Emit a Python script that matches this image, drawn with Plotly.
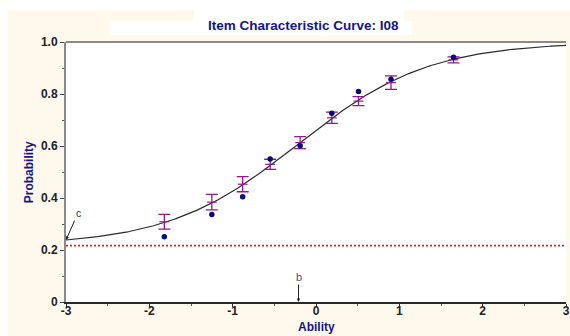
import numpy as np
import plotly.graph_objects as go

# ---- data ----
item_a = 1.28      # slope (incl. scaling)
item_b = -0.21     # difficulty
item_c = 0.217     # lower asymptote

group_ability = [-1.82, -1.25, -0.88, -0.55, -0.19, 0.19, 0.51, 0.90, 1.65]
group_observed = [0.251, 0.337, 0.405, 0.550, 0.601, 0.726, 0.810, 0.857, 0.941]
bar_low = [0.280, 0.354, 0.424, 0.510, 0.590, 0.687, 0.755, 0.818, 0.920]
bar_high = [0.337, 0.414, 0.482, 0.549, 0.636, 0.730, 0.790, 0.870, 0.943]

x_ticks = [-3, -2, -1, 0, 1, 2, 3]
x_ticktext = ["-3", "-2", "-1", "0", "1", "2", "3"]
y_ticks = [0, 0.2, 0.4, 0.6, 0.8, 1.0]
y_ticktext = ["0", "0.2", "0.4", "0.6", "0.8", "1.0"]

title_text = "Item Characteristic Curve: I08"
x_title = "Ability"
y_title = "Probability"

# ---- figure ----
theta = np.linspace(-3, 3, 301)
icc = item_c + (1 - item_c) / (1 + np.exp(-item_a * (theta - item_b)))

centers = [(lo + hi) / 2 for lo, hi in zip(bar_low, bar_high)]
halves = [(hi - lo) / 2 for lo, hi in zip(bar_low, bar_high)]

NAVY = "#14148c"
PURPLE = "#8e1a8e"

fig = go.Figure()

fig.add_trace(go.Scatter(
    x=[-3, 3], y=[item_c, item_c], mode="lines",
    line=dict(color="#e02222", width=1.6, dash="2px,2px"),
    hoverinfo="skip", showlegend=False))

fig.add_trace(go.Scatter(
    x=theta, y=icc, mode="lines",
    line=dict(color="#2a2a2a", width=1.2),
    showlegend=False, cliponaxis=False))

fig.add_trace(go.Scatter(
    x=group_ability, y=centers, mode="markers",
    marker=dict(symbol="line-ew-open", size=7, color=PURPLE,
                line=dict(color=PURPLE, width=1.2)),
    error_y=dict(type="data", array=halves, symmetric=True,
                 color=PURPLE, thickness=1.3, width=6),
    showlegend=False))

fig.add_trace(go.Scatter(
    x=group_ability, y=group_observed, mode="markers",
    marker=dict(symbol="circle", size=5.5, color="#0a0a80"),
    showlegend=False))

W, H = 570, 336
L, R, T, B = 66, 0, 42, 34
pw, ph = W - L - R, H - T - B

def px(xp):
    return (xp - L) / pw

def py(yp):
    return (H - B - yp) / ph

shapes = [
    # cream background
    dict(type="rect", xref="paper", yref="paper",
         x0=px(7), x1=px(575), y0=py(340), y1=py(10),
         fillcolor="#fff8ec", line=dict(width=0), layer="below"),
    # white title boxes
    dict(type="rect", xref="paper", yref="paper",
         x0=px(110), x1=px(415), y0=py(35), y1=py(21),
         fillcolor="white", line=dict(width=0), layer="below"),
    dict(type="rect", xref="paper", yref="paper",
         x0=px(195), x1=px(407), y0=py(21), y1=py(10),
         fillcolor="white", line=dict(width=0), layer="below"),
    # white plot area
    dict(type="rect", xref="paper", yref="paper",
         x0=0, x1=1, y0=0, y1=1,
         fillcolor="white", line=dict(width=0), layer="below"),
    # top frame line
    dict(type="line", xref="paper", yref="paper",
         x0=0, x1=1, y0=1, y1=1,
         line=dict(color="#8a8a8a", width=2)),
]

annotations = [
    dict(text="<b>" + title_text + "</b>", xref="paper", yref="paper",
         x=px(305), y=py(25.5), xanchor="center", yanchor="middle",
         showarrow=False, font=dict(family="Arial, Liberation Sans", size=13.5, color=NAVY)),
    dict(text="<b>" + x_title + "</b>", xref="paper", yref="paper",
         x=px(318), y=py(327), xanchor="center", yanchor="middle",
         showarrow=False, font=dict(family="Arial, Liberation Sans", size=12, color=NAVY)),
    dict(text="<b>" + y_title + "</b>", xref="paper", yref="paper",
         x=px(29), y=py(172), xanchor="center", yanchor="middle", textangle=-90,
         showarrow=False, font=dict(family="Arial, Liberation Sans", size=12, color=NAVY)),
    dict(text="c", x=-3, y=float(item_c + (1 - item_c) / (1 + np.exp(-item_a * (-3 - item_b)))),
         xref="x", yref="y", ax=12, ay=-27, showarrow=True,
         arrowhead=2, arrowsize=0.7, arrowwidth=1, arrowcolor="#222",
         font=dict(family="Arial, Liberation Sans", size=10.5, color="#333")),
    dict(text="b", x=item_b, y=0, xref="x", yref="y", ax=0, ay=-25,
         showarrow=True, arrowhead=2, arrowsize=0.7, arrowwidth=1, arrowcolor="#222",
         font=dict(family="Arial, Liberation Sans", size=11, color="#3a4f7a")),
]

tickfont = dict(family="Arial, Liberation Sans", size=12, color="#222", weight="bold")

fig.update_layout(
    width=W, height=H,
    margin=dict(l=L, r=R, t=T, b=B, pad=0),
    paper_bgcolor="white", plot_bgcolor="white",
    shapes=shapes, annotations=annotations,
    showlegend=False,
    xaxis=dict(range=[-3, 3], tickvals=x_ticks, ticktext=x_ticktext,
               showgrid=False, zeroline=False, showline=True,
               linecolor="#2a2a2a", linewidth=2, ticks="outside", ticklen=3,
               tickcolor="#2a2a2a", tickfont=tickfont, fixedrange=True,
               ticklabeloverflow="allow", ticklabelstandoff=-6,
               minor=dict(dtick=0.5, ticks="outside", ticklen=2, tickcolor="#555")),
    yaxis=dict(range=[0, 1], tickvals=y_ticks, ticktext=y_ticktext,
               showgrid=False, zeroline=False, showline=True,
               linecolor="#8a8a8a", linewidth=2, ticks="outside", ticklen=4,
               tickcolor="#444", tickfont=tickfont, fixedrange=True,
               minor=dict(dtick=0.1, ticks="outside", ticklen=2, tickcolor="#555")),
)

fig.write_html("out.html")
